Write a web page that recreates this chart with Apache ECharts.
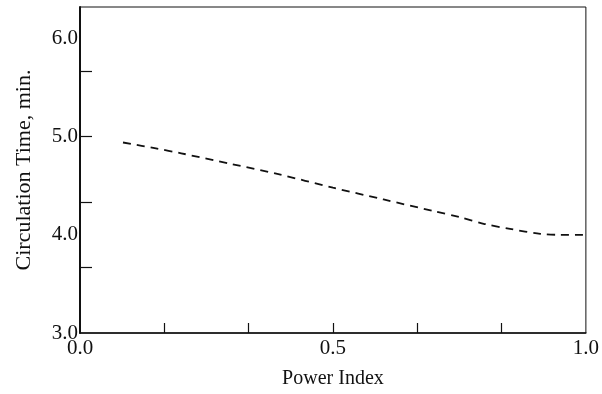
<!DOCTYPE html>
<html>
<head>
<meta charset="utf-8">
<script src="https://cdn.jsdelivr.net/npm/echarts@6/dist/echarts.min.js"></script>
<style>
  html, body { margin: 0; padding: 0; background: #fff; }
  #chart { width: 602px; height: 394px; }
</style>
</head>
<body>
<div id="chart"></div>
<script>
// values
const powerIndex = [0.085, 0.15, 0.2, 0.3, 0.39, 0.5, 0.6, 0.7, 0.75, 0.8, 0.85, 0.91, 0.95, 1.0];
const circulationTime = [4.94, 4.88, 4.83, 4.72, 4.62, 4.48, 4.36, 4.24, 4.18, 4.11, 4.06, 4.01, 4.0, 4.0];

const xLabelValues = [0, 0.5, 1.0];
const xTickValues = [1 / 6, 2 / 6, 3 / 6, 4 / 6, 5 / 6];
const yLabelValues = [3, 4, 5, 6];
const yTickValues = [3 + 2 / 3, 3 + 4 / 3, 5, 5 + 2 / 3];

const ink = '#111';
const font = 'Liberation Serif';

const chart = echarts.init(document.getElementById('chart'));

chart.setOption({
  animation: false,
  backgroundColor: '#fff',
  grid: {
    left: 80,
    right: 16,
    top: 7,
    bottom: 60,
    show: true,
    borderColor: ink,
    borderWidth: 1,
  },
  xAxis: {
    type: 'value',
    min: 0,
    max: 1,
    name: 'Power Index',
    nameLocation: 'middle',
    nameGap: 36,
    nameTextStyle: { fontFamily: font, fontSize: 20, color: ink },
    axisLine: { show: true, lineStyle: { color: ink, width: 1.5 } },
    axisTick: {
      show: true,
      inside: true,
      length: 10,
      customValues: xTickValues,
      lineStyle: { color: ink, width: 1.2 },
    },
    axisLabel: {
      customValues: xLabelValues,
      margin: 5,
      fontFamily: font,
      fontSize: 21,
      color: ink,
      formatter: (v) => v.toFixed(1),
    },
    splitLine: { show: false },
  },
  yAxis: {
    type: 'value',
    min: 3,
    max: 6.32,
    name: 'Circulation Time, min.',
    nameLocation: 'middle',
    nameGap: 45,
    nameTextStyle: { fontFamily: font, fontSize: 22, color: ink },
    axisLine: { show: true, lineStyle: { color: ink, width: 2 } },
    axisTick: {
      show: true,
      inside: true,
      length: 12,
      customValues: yTickValues,
      lineStyle: { color: ink, width: 1.2 },
    },
    axisLabel: {
      customValues: yLabelValues,
      margin: 2,
      fontFamily: font,
      fontSize: 21,
      color: ink,
      formatter: (v) => v.toFixed(1),
    },
    splitLine: { show: false },
  },
  series: [
    {
      type: 'line',
      data: powerIndex.map((x, i) => [x, circulationTime[i]]),
      smooth: 0.3,
      showSymbol: false,
      lineStyle: { color: ink, width: 1.8, type: [8, 6] },
    },
  ],
});
</script>
</body>
</html>
